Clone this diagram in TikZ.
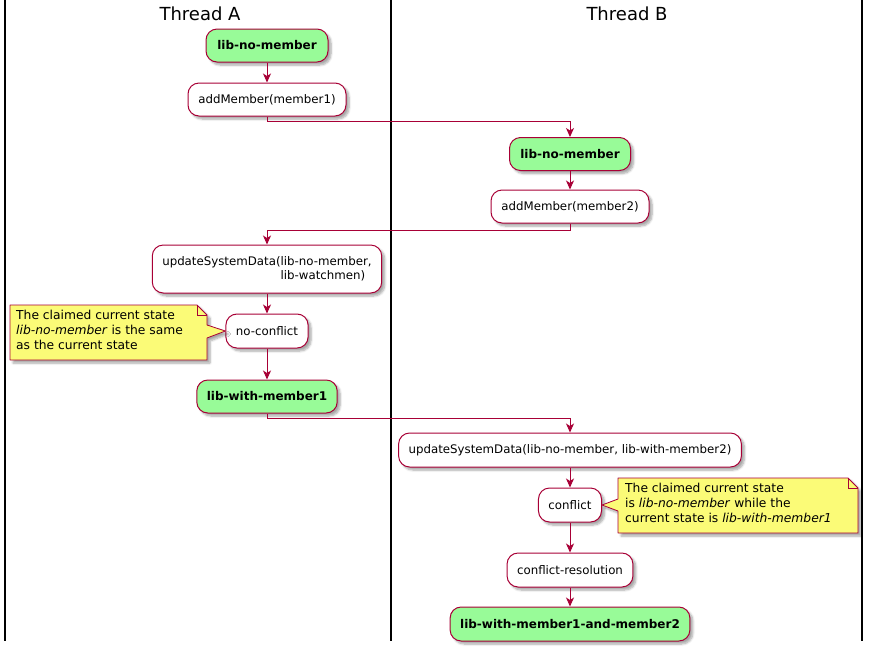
\documentclass[tikz,border=0pt]{standalone}
\usepackage{fontspec}
\setmainfont{DejaVu Sans}
\usepackage{tikz}
\usetikzlibrary{arrows.meta, calc, shadows.blur}
\usepackage{xcolor}
\definecolor{umlred}{HTML}{A80036}
\definecolor{umlgreen}{HTML}{98FB98}
\definecolor{umlnote}{HTML}{FBFB77}

\tikzset{
  act/.style={draw=umlred, fill=white, line width=1pt, rounded corners=11pt,
    minimum height=33pt, inner xsep=10pt, font=\fontsize{11.8}{14}\selectfont,
    blur shadow={shadow xshift=3pt, shadow yshift=-3pt, shadow opacity=35, shadow blur steps=6}},
  statebox/.style={act, fill=umlgreen, font=\fontsize{12}{14}\selectfont\bfseries},
  flow/.style={umlred, line width=1pt, -{Stealth[length=9pt, width=8pt, inset=2.5pt]}},
  lane/.style={black, line width=1.6pt},
  lanetitle/.style={font=\fontsize{18}{21}\selectfont},
  notetext/.style={anchor=north west, align=left, inner xsep=7pt, inner ysep=4.5pt,
    font=\fontsize{12.3}{15}\selectfont},
  notebd/.style={draw=umlred, fill=umlnote, line width=0.8pt, line join=round,
    blur shadow={shadow xshift=3pt, shadow yshift=-3pt, shadow opacity=35, shadow blur steps=6}},
}

\begin{document}
\begin{tikzpicture}[x=1pt, y=-1pt]
            \useasboundingbox (0,0) rectangle (871,649);
            % swimlanes
            \draw[lane] (5,0) -- (5,641);
            \draw[lane] (391,0) -- (391,641);
            \draw[lane] (862,0) -- (862,641);
            \node[lanetitle] (titleA) at (200,14) {Thread A};
            \node[lanetitle] (titleB) at (627,14) {Thread B};
            % activities
            \node[statebox, minimum width=122pt] (startA) at (267,45.5) {lib-no-member};
            \node[act, minimum width=158pt] (addA) at (267,99.5) {addMember(member1)};
            \node[statebox, minimum width=121pt] (startB) at (570,154) {lib-no-member};
            \node[act, minimum width=158pt] (addB) at (570,206.5) {addMember(member2)};
            \node[act, minimum width=227pt, minimum height=48pt, align=left] (updA) at (267,269)
              {updateSystemData(lib-no-member,\\\phantom{updateSystemData(}lib-watchmen)};
            \node[act, minimum width=81pt, minimum height=34pt] (noconf) at (267,331) {no-conflict};
            \node[statebox, minimum width=139pt] (withA) at (267,396.5) {lib-with-member1};
            \node[act, minimum width=342pt, minimum height=34pt] (updB) at (570,450) {updateSystemData(lib-no-member, lib-with-member2)};
            \node[act, minimum width=62pt, minimum height=34pt] (conf) at (570,505) {conflict};
            \node[act, minimum width=123pt, minimum height=34pt] (resol) at (570,570) {conflict-resolution};
            \node[statebox, minimum width=235pt, minimum height=34pt] (final) at (570,624) {lib-with-member1-and-member2};
            % notes
            \draw[notebd] (10,305) -- (197,305) -- (207,315) -- (207,325) -- (noconf.west)
              -- (207,338) -- (207,360) -- (10,360) -- cycle;
            \draw[umlred, line width=0.8pt] (197,305) -- (197,315) -- (207,315);
            \node[notetext] (noteA) at (9,305)
              {The claimed current state\\\textit{lib-no-member} is the same\\as the current state};
            \draw[notebd] (618,478) -- (848,478) -- (858,488) -- (858,533) -- (618,533)
              -- (618,511) -- (conf.east) -- (618,499) -- cycle;
            \draw[umlred, line width=0.8pt] (848,478) -- (848,488) -- (858,488);
            \node[notetext] (noteB) at (618,478)
              {The claimed current state\\is \textit{lib-no-member} while the\\current state is \textit{lib-with-member1}};
            % flow
            \draw[flow] (startA) -- (addA);
            \draw[flow] (addA.south) -- ++(0,5) -| (startB.north);
            \draw[flow] (startB) -- (addB);
            \draw[flow] (addB.south) -- ++(0,7) -| (updA.north);
            \draw[flow] (updA) -- (noconf);
            \draw[flow] (noconf) -- (withA);
            \draw[flow] (withA.south) -- ++(0,5) -| (updB.north);
            \draw[flow] (updB) -- (conf);
            \draw[flow] (conf) -- (resol);
            \draw[flow] (resol) -- (final);
          \end{tikzpicture}
\end{document}
